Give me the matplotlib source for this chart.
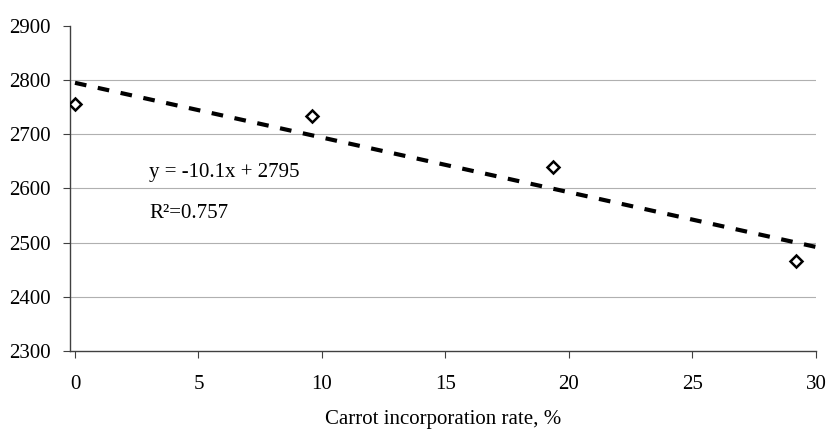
import numpy as np
import matplotlib.pyplot as plt

plt.rcParams['font.family'] = ['Liberation Serif', 'DejaVu Serif']

# carrot incorporation rate (%) and measured values
rate = [0, 9.6, 19.35, 29.2]
value = [2756, 2733, 2640, 2466]

slope = -10.1
intercept = 2795
r2 = 0.757

fig = plt.figure(figsize=(8.27, 4.32), dpi=100)
ax = fig.add_axes([0.0847, 0.1875, 0.902, 0.7525])

# trend line
xt = np.array([0, 30])
ax.plot(xt, slope * xt + intercept, color='black', lw=3,
        linestyle=(0, (2.8, 2.8)), dash_capstyle='butt', zorder=3)

ax.plot(rate, value, linestyle='none', marker='D', ms=6, mfc='white',
        mec='black', mew=1.8, zorder=4)

ax.set_xlim(-0.2, 30)
ax.set_ylim(2300, 2900)
ax.set_xticks(range(0, 31, 5))
ax.set_yticks(range(2300, 2901, 100))
# grid lines only between the axis and the top tick
for yv in range(2400, 2900, 100):
    ax.axhline(yv, color='#b0b0b0', lw=0.8, zorder=1)
for s in ['top', 'right']:
    ax.spines[s].set_visible(False)
for s in ['left', 'bottom']:
    ax.spines[s].set_color('#404040')
    ax.spines[s].set_linewidth(1.0)
ax.tick_params(labelsize=15, length=5, color='#404040')
ax.tick_params(axis='y', pad=9)
ax.tick_params(axis='x', pad=12)

ax.set_xlabel('Carrot incorporation rate, %', fontsize=15, labelpad=12)

ax.text(3.0, 2630, 'y = -10.1x + 2795', fontsize=15, va='center')
ax.text(3.0, 2553, 'R²=0.757', fontsize=15, va='center')

fig.savefig('out.png', dpi=100)
